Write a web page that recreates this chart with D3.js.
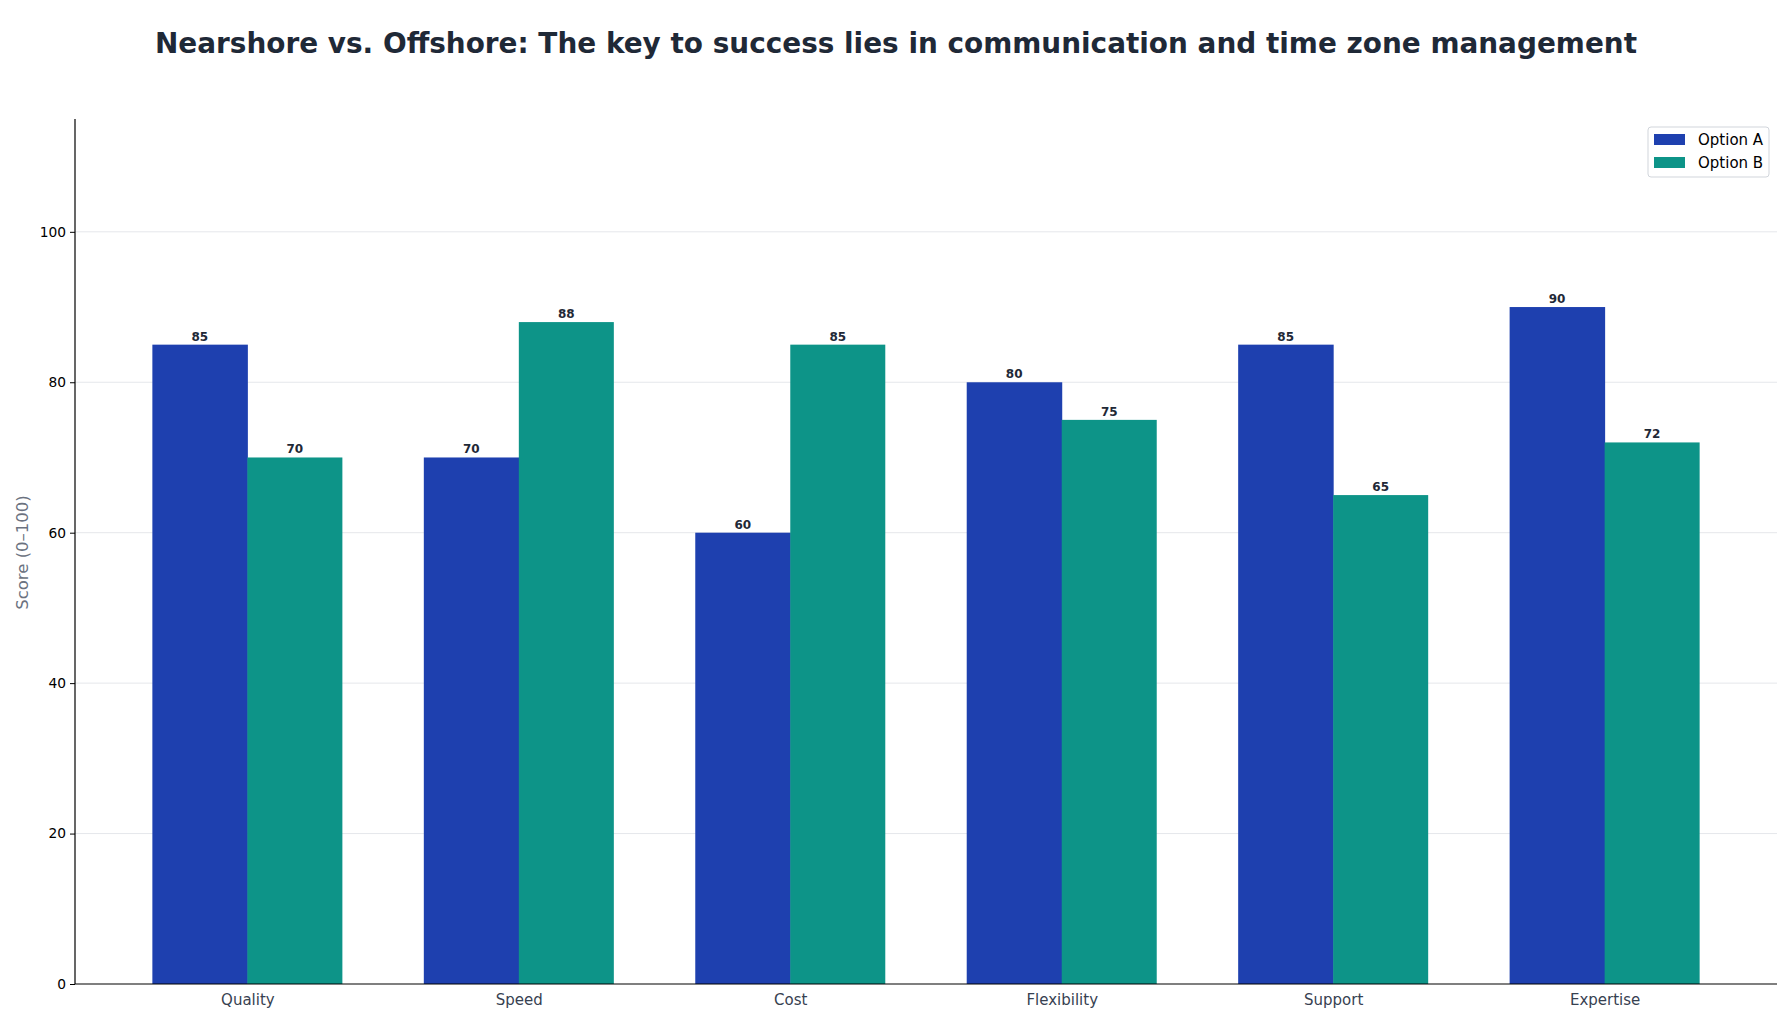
<!DOCTYPE html>
<html><head><meta charset="utf-8">
<script src="https://cdn.jsdelivr.net/npm/d3@7"></script>
<style>body{margin:0;background:#fff;} text{font-family:"DejaVu Sans",sans-serif;}</style>
</head><body>
<svg id="chart" width="1792" height="1024"></svg>
<script>
const title = "Nearshore vs. Offshore: The key to success lies in communication and time zone management";
const categories = ["Quality","Speed","Cost","Flexibility","Support","Expertise"];
const seriesNames = ["Option A","Option B"];
const optionA = [85,70,60,80,85,90];
const optionB = [70,88,85,75,65,72];
const yTicks = [0,20,40,60,80,100];
const colors = ["#1e40af","#0d9488"];

const svg = d3.select("#chart");
const m = {left:75, right:15, top:119, bottom:40};
const W = 1792, H = 1024;
const plotW = W - m.left - m.right, plotH = H - m.top - m.bottom;

const n = categories.length, bw = 0.35;
const x = d3.scaleLinear().domain([-0.635, n - 1 + 0.635]).range([m.left, m.left + plotW]);
const y = d3.scaleLinear().domain([0, 115]).range([m.top + plotH, m.top]);

// title
svg.append("text").attr("x", W/2).attr("y", 43).attr("text-anchor","middle")
  .attr("dominant-baseline","central").attr("font-size", 27.9).attr("font-weight","bold")
  .attr("fill","#1f2937").text(title);

// grid
svg.append("g").selectAll("line").data(yTicks.filter(t=>t>0)).join("line")
  .attr("x1", m.left).attr("x2", m.left + plotW)
  .attr("y1", d=>y(d)).attr("y2", d=>y(d))
  .attr("stroke","#e5e7eb").attr("stroke-width",1);

// bars
const series = [optionA, optionB];
series.forEach((vals, s) => {
  const g = svg.append("g");
  g.selectAll("rect").data(vals).join("rect")
    .attr("x", (d,i)=> x(i + (s===0 ? -bw : 0)))
    .attr("width", x(bw) - x(0) + (s===0 ? 0.5 : 0))
    .attr("y", d=>y(d))
    .attr("height", d=>y(0)-y(d))
    .attr("fill", colors[s]);
  g.selectAll("text").data(vals).join("text")
    .attr("x", (d,i)=> x(i + (s===0 ? -bw/2 : bw/2)))
    .attr("y", d=>y(d) - 4)
    .attr("text-anchor","middle").attr("font-size", 12).attr("font-weight","bold")
    .attr("fill","#1f2937").text(d=>d);
});

// y axis
const yAxis = d3.axisLeft(y).tickValues(yTicks).tickSize(5).tickPadding(4);
const ya = svg.append("g").attr("transform",`translate(${m.left},0)`).call(yAxis);
ya.select(".domain").attr("stroke","#000").attr("stroke-width",1.2).attr("d",`M0,${y(115)}V${y(0)}`);
ya.selectAll(".tick line").attr("stroke","#000");
ya.selectAll(".tick text").attr("font-size",13.8).attr("fill","#000").attr("font-family","DejaVu Sans");

// x axis
const xAxis = d3.axisBottom(x).tickValues(d3.range(n)).tickFormat(i=>categories[i]).tickSize(0).tickPadding(10);
const xa = svg.append("g").attr("transform",`translate(0,${y(0)})`).call(xAxis);
xa.select(".domain").attr("stroke","#000").attr("stroke-width",1.2).attr("d",`M${m.left},0H${m.left+plotW}`);
xa.selectAll(".tick text").attr("font-size",15).attr("fill","#374151").attr("font-family","DejaVu Sans");

// y label
svg.append("text").attr("transform",`translate(22,${(y(0)+y(115))/2 + 1}) rotate(-90)`)
  .attr("text-anchor","middle").attr("dominant-baseline","central")
  .attr("font-size",16.5).attr("fill","#6b7280").text("Score (0–100)");

// legend
const lg = svg.append("g").attr("transform","translate(1648,127)");
lg.append("rect").attr("x",0).attr("y",0).attr("width",121).attr("height",50).attr("rx",3)
  .attr("fill","#fff").attr("stroke","#d1d5db").attr("stroke-width",1);
seriesNames.forEach((nm,i)=>{
  lg.append("rect").attr("x",6).attr("y",7+i*23).attr("width",31).attr("height",11).attr("fill",colors[i]);
  lg.append("text").attr("x",50).attr("y",13+i*23).attr("dominant-baseline","central")
    .attr("font-size",15).attr("fill","#000").text(nm);
});
</script>
</body></html>
